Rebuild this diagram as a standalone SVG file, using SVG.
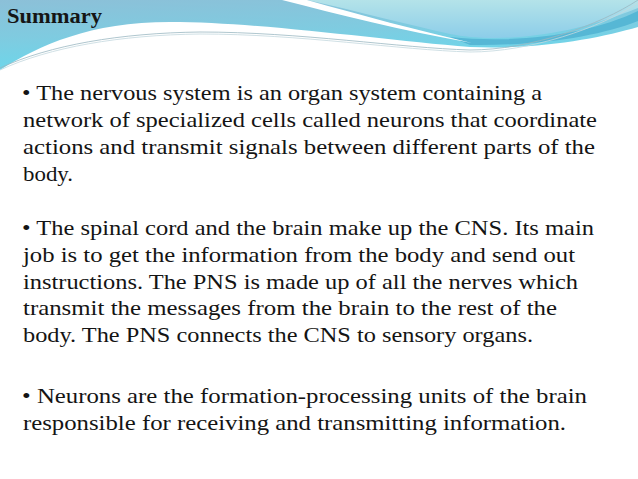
<svg xmlns="http://www.w3.org/2000/svg" width="638" height="479" viewBox="0 0 638 479">
  <defs>
    <linearGradient id="gMain" x1="0" y1="0" x2="0.3" y2="1">
      <stop offset="0" stop-color="#8cc0d8"/>
      <stop offset="0.5" stop-color="#7fcbe0"/>
      <stop offset="1" stop-color="#6ad8ec"/>
    </linearGradient>
    <linearGradient id="gLight" x1="0" y1="0" x2="0" y2="1">
      <stop offset="0" stop-color="#b4e3e9"/>
      <stop offset="1" stop-color="#8ccde9"/>
    </linearGradient>
    <style>
      .body { font-family: "Liberation Serif", "Times New Roman", serif; font-size: 21px; fill: #141414; }
      .title { font-family: "Liberation Serif", "Times New Roman", serif; font-size: 20px; font-weight: bold; fill: #151515; }
      .thin { fill: none; stroke-width: 0.8; }
    </style>
  </defs>
  <rect width="638" height="479" fill="#ffffff"/>
  <g id="header">
    <path d="M0,0 H638 V27 C600,38 540,50 470,47 C380,40 260,22 170,22 C90,22 40,45 0,70 Z" fill="url(#gMain)"/>
    <path d="M307,0 C360,12 410,25 450,34 C490,42 560,40 638,8 V0 Z" fill="url(#gLight)"/>
    <path d="M450,37 C520,44 590,34 638,11 V21 C600,36 540,46 470,45 Z" fill="#56b7d5"/>
    <path d="M282,0 C340,15 400,30 472,43 C420,31 360,15 307,0 Z" fill="#ffffff"/>
    <path class="thin" d="M0,68 C50,45 120,33 200,32 C300,32 400,48 470,50 C530,50 600,25 638,0" stroke="#9ab8c2"/>
    <path class="thin" d="M0,70 C50,47 120,35 200,34 C300,34 400,50 470,52 C530,52 600,28 638,3" stroke="#c4d8de"/>
  </g>
  <g id="title">
    <text class="title" x="7" y="23" textLength="95" lengthAdjust="spacingAndGlyphs">Summary</text>
  </g>
  <g id="content">
    <text class="body" x="22" y="100" textLength="520" lengthAdjust="spacingAndGlyphs">• The nervous system is an organ system containing a</text>
    <text class="body" x="23" y="127" textLength="574" lengthAdjust="spacingAndGlyphs">network of specialized cells called neurons that coordinate</text>
    <text class="body" x="23" y="154" textLength="572" lengthAdjust="spacingAndGlyphs">actions and transmit signals between different parts of the</text>
    <text class="body" x="23" y="181" textLength="50" lengthAdjust="spacingAndGlyphs">body.</text>
    <text class="body" x="22" y="235" textLength="572" lengthAdjust="spacingAndGlyphs">• The spinal cord and the brain make up the CNS. Its main</text>
    <text class="body" x="23" y="262" textLength="552" lengthAdjust="spacingAndGlyphs">job is to get the information from the body and send out</text>
    <text class="body" x="23" y="289" textLength="555" lengthAdjust="spacingAndGlyphs">instructions. The PNS is made up of all the nerves which</text>
    <text class="body" x="23" y="315" textLength="534" lengthAdjust="spacingAndGlyphs">transmit the messages from the brain to the rest of the</text>
    <text class="body" x="23" y="342" textLength="510" lengthAdjust="spacingAndGlyphs">body. The PNS connects the CNS to sensory organs.</text>
    <text class="body" x="22" y="403" textLength="565" lengthAdjust="spacingAndGlyphs">• Neurons are the formation-processing units of the brain</text>
    <text class="body" x="23" y="430" textLength="543" lengthAdjust="spacingAndGlyphs">responsible for receiving and transmitting information.</text>
  </g>
</svg>
